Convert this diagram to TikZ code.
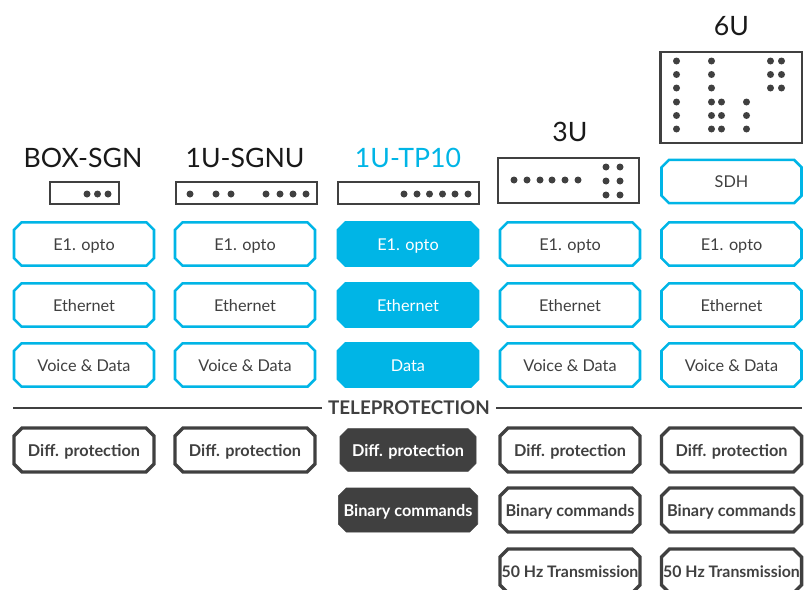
\documentclass[tikz,border=0pt]{standalone}
\usepackage{fontspec}
\setmainfont{Lato}
\usetikzlibrary{shapes.misc}
\definecolor{tpblue}{HTML}{00B5E6}
\definecolor{tpdark}{HTML}{404040}
\tikzset{
  title/.style={font=\fontsize{20}{24}\selectfont, text=black!90},
  rack/.style={draw=tpdark, line width=2.1pt},
  dot/.style={fill=tpdark},
  netbox/.style={chamfered rectangle, chamfered rectangle xsep=2.8pt, chamfered rectangle ysep=2.8pt, draw=tpblue, line width=1.9pt, fill=white,
    minimum width=105pt, minimum height=32.5pt, inner sep=0pt, text height=10.5pt, text depth=1.5pt, text=tpdark, font=\fontsize{12.2}{14}\selectfont},
  neton/.style={netbox, fill=tpblue, text=white},
  protbox/.style={chamfered rectangle, chamfered rectangle xsep=3pt, chamfered rectangle ysep=3pt, draw=tpdark, line width=2.6pt, fill=white,
    minimum width=105pt, minimum height=33pt, inner sep=0pt, text height=10.5pt, text depth=1.5pt, text=tpdark, font=\fontsize{12.2}{14}\selectfont\bfseries},
  proton/.style={protbox, fill=tpdark, draw=tpdark, text=white, line width=0.5pt},
  hzbox/.style={protbox, font=\fontsize{11.9}{14}\selectfont\bfseries}
}
\begin{document}
\begin{tikzpicture}[x=0.75pt, y=-0.75pt]
    \clip (0,0) rectangle (812,589);

    % BOX-SGN column
    \begin{scope}[shift={(84,0)}]
        \node[title] (nameA) at (-1,158) {BOX-SGN};
        \draw[rack] (-34,182) rectangle (35,204);
        \foreach \x in {3,13.5,24} \fill[dot] (\x,194) circle (3.5);
        \node[netbox] (e1A) at (0,244) {E1. opto};
        \node[netbox] (ethA) at (0,305) {Ethernet};
        \node[netbox] (voiceA) at (0,365) {Voice \& Data};
        \node[protbox] (diffA) at (0,450) {Diff. protection};
    \end{scope}

    % 1U-SGNU column
    \begin{scope}[shift={(245,0)}]
        \node[title] (nameB) at (0,158) {1U-SGNU};
        \draw[rack] (-69,182) rectangle (72,204);
        \foreach \x in {-55,-29,-14,21,35,48,61} \fill[dot] (\x,194) circle (3.5);
        \node[netbox] (e1B) at (0,244) {E1. opto};
        \node[netbox] (ethB) at (0,305) {Ethernet};
        \node[netbox] (voiceB) at (0,365) {Voice \& Data};
        \node[protbox] (diffB) at (0,450) {Diff. protection};
    \end{scope}

    % 1U-TP10 column
    \begin{scope}[shift={(408,0)}]
        \node[title, text=tpblue] (nameC) at (0,158) {1U-TP10};
        \draw[rack] (-70,182) rectangle (71,204);
        \foreach \x in {-4,9,21.5,34.5,47,60} \fill[dot] (\x,194) circle (3.5);
        \node[neton] (e1C) at (0,244) {E1. opto};
        \node[neton] (ethC) at (0,305) {Ethernet};
        \node[neton] (voiceC) at (0,365) {Data};
        \node[proton, minimum width=102pt, minimum height=32pt] (diffC) at (0,450) {Diff. protection};
        \node[proton, minimum width=104.5pt] (binC) at (0,510) {Binary commands};
    \end{scope}

    % 3U column
    \begin{scope}[shift={(570,0)}]
        \node[title] (nameD) at (0,132) {3U};
        \draw[rack] (-72,158) rectangle (69,203);
        \foreach \x in {-56,-43,-30,-18,-5,8} \fill[dot] (\x,180) circle (3.5);
        \foreach \x in {36,50} \foreach \y in {167,181,195} \fill[dot] (\x,\y) circle (3.5);
        \node[netbox] (e1D) at (0,244) {E1. opto};
        \node[netbox] (ethD) at (0,305) {Ethernet};
        \node[netbox] (voiceD) at (0,365) {Voice \& Data};
        \node[protbox] (diffD) at (0,450) {Diff. protection};
        \node[protbox] (binD) at (0,510) {Binary commands};
        \node[hzbox] (hzD) at (0,571) {\makebox[98pt]{50 Hz Transmission}};
    \end{scope}

    % 6U column
    \begin{scope}[shift={(731.5,0)}]
        \node[title] (nameE) at (0,26) {6U};
        \draw[rack] (-71,52) rectangle (70.5,143);
        \foreach \y in {61,74.5,88,102,115.5,129} {
            \fill[dot] (-55,\y) circle (3.5);
            \fill[dot] (-20,\y) circle (3.5);
        }
        \foreach \x in {-10,15} \foreach \y in {102,115.5,129} \fill[dot] (\x,\y) circle (3.5);
        \foreach \x in {39,50} \foreach \y in {61,74.5,88} \fill[dot] (\x,\y) circle (3.5);
        \node[netbox] (sdhE) at (0,181.5) {SDH};
        \node[netbox] (e1E) at (0,244) {E1. opto};
        \node[netbox] (ethE) at (0,305) {Ethernet};
        \node[netbox] (voiceE) at (0,365) {Voice \& Data};
        \node[protbox] (diffE) at (0,450) {Diff. protection};
        \node[protbox] (binE) at (0,510) {Binary commands};
        \node[hzbox] (hzE) at (0,571) {\makebox[98pt]{50 Hz Transmission}};
    \end{scope}

    % divider
    \node[font=\fontsize{14.1}{16}\selectfont\bfseries, text=tpdark, inner sep=4.5pt] (tele) at (409,408) {TELEPROTECTION};
    \coordinate (ruleL) at (13,408);
    \coordinate (ruleR) at (802,408);
    \draw[tpdark, line width=1pt] (ruleL) -- (tele);
    \draw[tpdark, line width=1pt] (tele) -- (ruleR);
\end{tikzpicture}
\end{document}
